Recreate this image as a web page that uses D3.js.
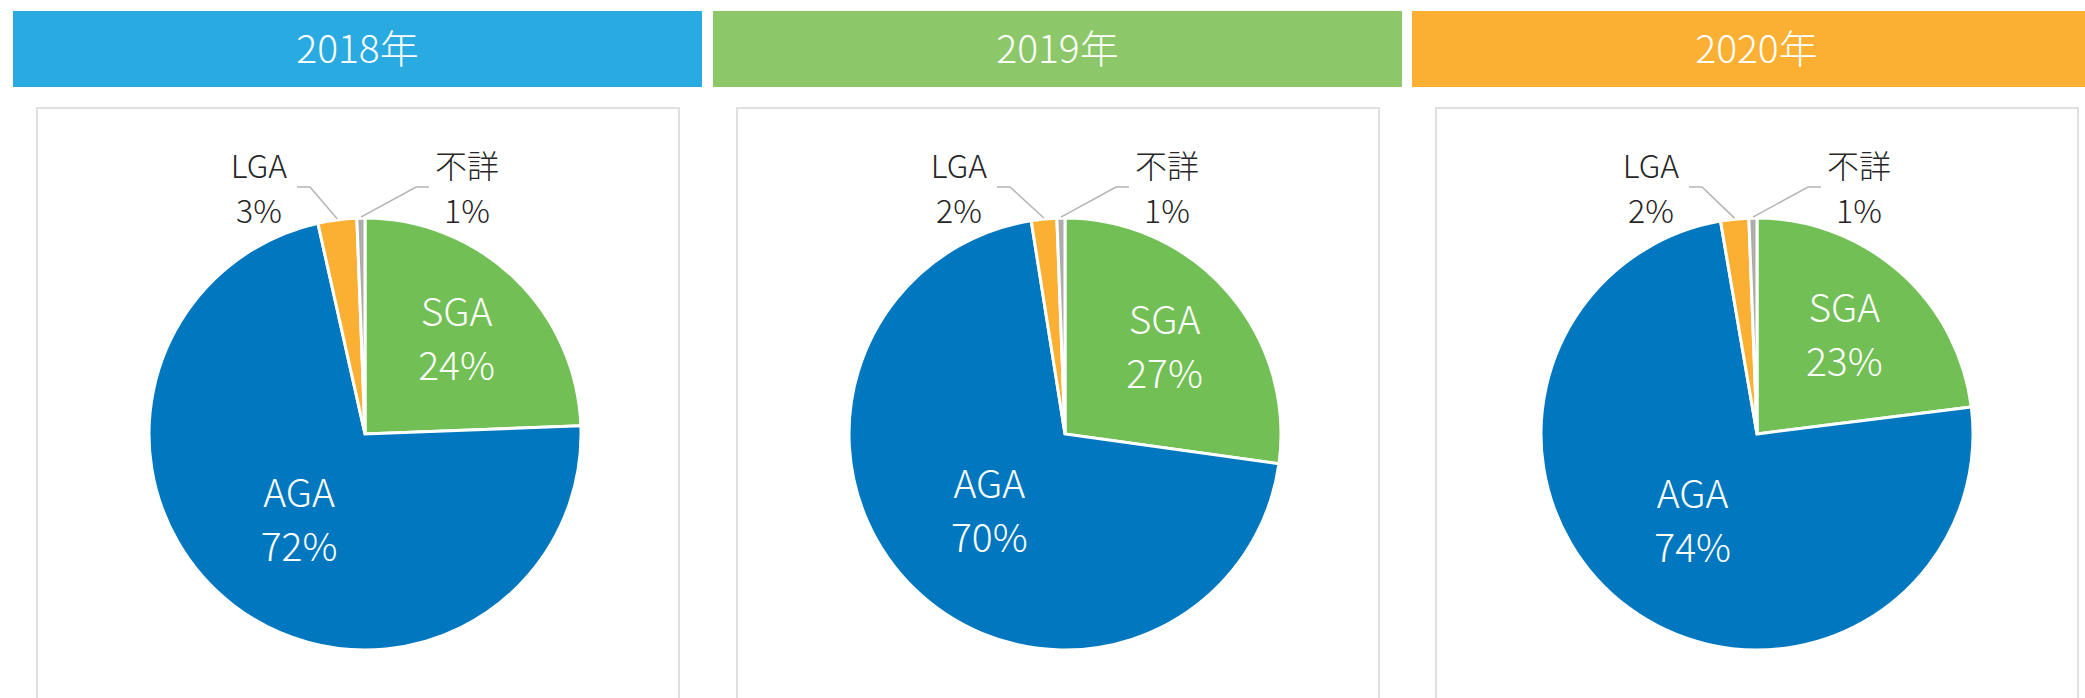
<!DOCTYPE html>
<meta charset="utf-8">
<head>
  <title>Pie by year</title>
</head>
<body>
<style>
body { margin: 0; background: #fff; }
text { font-family: "Noto Sans CJK JP", "Noto Sans", sans-serif; font-weight: 300; }
.head text { font-size: 39px; fill: #fff; text-anchor: middle; }
.inner text { font-size: 39px; fill: #fff; text-anchor: middle; }
.outer text { font-size: 32px; fill: #262626; text-anchor: middle; }
.arc path { stroke: #fff; stroke-width: 3; }
.leader { fill: none; stroke: #b4b4b4; stroke-width: 1.5; }
</style>
<svg width="2085" height="698"></svg>
<script src="https://d3js.org/d3.v7.min.js"></script>
<script>

// data
var years = ["2018年", "2019年", "2020年"];
var categories = ["SGA", "AGA", "LGA", "不詳"];
var sgaValues = [24.4, 27.2, 23.0];
var agaValues = [72.1, 70.3, 74.3];
var lgaValues = [2.9, 1.9, 2.1];
var unknownValues = [0.6, 0.6, 0.6];

var headColors = ["#29abe2", "#8cc86a", "#fbb034"];
var color = d3.scaleOrdinal()
    .domain(categories)
    .range(["#72bf55", "#0077be", "#fbb034", "#acacac"]);

var svg = d3.select("svg");

// layout
var headX = [13, 713, 1412],
    headW = 689,
    centerX = [365, 1065, 1757],
    centerY = 434,
    radius = 216;

var pie = d3.pie()
    .sort(null)
    .value(function(d) { return d.value; });

var path = d3.arc()
    .outerRadius(radius)
    .innerRadius(0);

var labelRadius = { "SGA": 132, "AGA": 108 };

function pct(v) { return Math.round(v) + "%"; }

years.forEach(function(year, i) {
  var data = categories.map(function(c, k) {
    return { name: c, value: [sgaValues, agaValues, lgaValues, unknownValues][k][i] };
  });

  // header bar
  var head = svg.append("g").attr("class", "head");
  head.append("rect")
      .attr("x", headX[i]).attr("y", 11)
      .attr("width", headW).attr("height", 76)
      .attr("fill", headColors[i]);
  head.append("text")
      .attr("x", headX[i] + headW / 2).attr("y", 63)
      .text(year);

  // chart frame
  svg.append("rect")
      .attr("x", headX[i] + 24).attr("y", 108)
      .attr("width", 642).attr("height", 700)
      .attr("fill", "none")
      .attr("stroke", "#e0e0e0")
      .attr("stroke-width", 2);

  var g = svg.append("g")
      .attr("transform", "translate(" + centerX[i] + "," + centerY + ")");

  var arcs = pie(data);

  var arc = g.selectAll(".arc")
    .data(arcs)
    .enter().append("g")
      .attr("class", "arc");

  arc.append("path")
      .attr("d", path)
      .attr("fill", function(d) { return color(d.data.name); });

  // big slices: labels inside
  var inner = g.selectAll(".inner")
    .data(arcs.filter(function(d) { return labelRadius[d.data.name]; }))
    .enter().append("g")
      .attr("class", "inner")
      .attr("transform", function(d) {
        var r = labelRadius[d.data.name];
        var c = d3.arc().innerRadius(r).outerRadius(r).centroid(d);
        return "translate(" + c + ")";
      });
  inner.append("text").attr("y", -13).text(function(d) { return d.data.name; });
  inner.append("text").attr("y", 41).text(function(d) { return pct(d.data.value); });

  // small slices: labels outside with leader lines
  var outerX = { "LGA": -106, "不詳": 102 };
  var small = arcs.filter(function(d) { return outerX[d.data.name] !== undefined; });

  g.selectAll(".leader")
    .data(small)
    .enter().append("polyline")
      .attr("class", "leader")
      .attr("points", function(d) {
        var a = (d.startAngle + d.endAngle) / 2,
            lx = outerX[d.data.name],
            s = lx < 0 ? 1 : -1;
        var p0 = [Math.sin(a) * (radius + 1), -Math.cos(a) * (radius + 1)];
        return [p0, [lx + s * 51, -247], [lx + s * 38, -247]].join(" ");
      });

  var outer = g.selectAll(".outer")
    .data(small)
    .enter().append("g")
      .attr("class", "outer")
      .attr("transform", function(d) { return "translate(" + outerX[d.data.name] + ",0)"; });
  outer.append("text").attr("y", -256).text(function(d) { return d.data.name; });
  outer.append("text").attr("y", -211).text(function(d) { return pct(d.data.value); });
});

</script>
</body>
</html>
